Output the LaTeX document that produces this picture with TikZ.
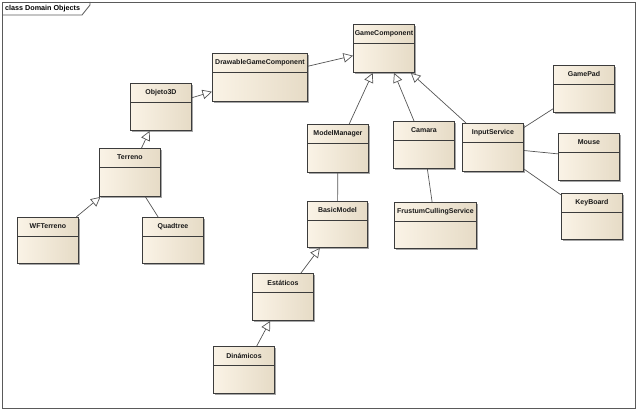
\documentclass[tikz,border=0pt]{standalone}
\usepackage{fontspec}
\newfontfamily\umlfont{Liberation Sans}
\usetikzlibrary{shadows,arrows.meta}

\definecolor{boxlight}{HTML}{FAF3E6}
\definecolor{boxdark}{HTML}{E6DBC6}
\definecolor{boxline}{HTML}{3C3C3C}
\definecolor{linkgray}{HTML}{555555}
\definecolor{framegray}{HTML}{5A5A5A}

\tikzset{
  classname/.style={anchor=center, yshift=-9.5pt, inner sep=0pt,
    font=\umlfont\bfseries\fontsize{7}{8}\selectfont, text=black!90},
  classbox/.style={draw=boxline, line width=0.9pt,
    left color=boxlight, right color=boxdark,
    minimum width=61pt, minimum height=47pt, anchor=north west, inner sep=0pt,
    drop shadow={shadow xshift=1.5pt, shadow yshift=-1.5pt, opacity=0.35, fill=black},
    path picture={\draw[boxline, line width=0.9pt]
      ([yshift=-19pt]path picture bounding box.north west) --
      ([yshift=-19pt]path picture bounding box.north east);},
    label={[classname]north:#1}},
  inherits/.style={draw=linkgray, line width=0.7pt,
    -{Triangle[open, length=9.5pt, width=9.5pt, fill=white]}},
  assoc/.style={draw=linkgray, line width=0.7pt},
}

\begin{document}
\begin{tikzpicture}[x=1pt, y=-1pt]
    \useasboundingbox (0,0) rectangle (640,411);

    % The frame
    \draw[framegray, line width=0.8pt] (2,2) rectangle (635,408);
    \draw[framegray, line width=0.8pt] (2,15) -- (82,15) -- (90,5) -- (90,2);
    \node (title) [anchor=west, inner sep=0pt, font=\umlfont\bfseries\fontsize{7.2}{8}\selectfont] at (5,8.5) {class Domain Objects};

    % The classes
    \node (GC) [classbox={GameComponent}, minimum height=48pt] at (353,24) {};
    \node (DGC) [classbox={DrawableGameComponent}, minimum width=95pt, minimum height=48pt] at (212,53) {};
    \node (Obj) [classbox={Objeto3D}] at (130,83) {};
    \node (Ter) [classbox={Terreno}, minimum height=48pt] at (99,148) {};
    \node (WFT) [classbox={WFTerreno}, minimum height=46pt] at (17,217) {};
    \node (Quad) [classbox={Quadtree}, minimum height=46pt] at (142,217) {};
    \node (MM) [classbox={ModelManager}, minimum height=48pt] at (307,124) {};
    \node (Cam) [classbox={Camara}] at (393,121) {};
    \node (Input) [classbox={InputService}, minimum height=48pt] at (462,123) {};
    \node (Pad) [classbox={GamePad}] at (553,65) {};
    \node (Mouse) [classbox={Mouse}] at (558,133) {};
    \node (Key) [classbox={KeyBoard}, minimum height=46pt] at (561,193) {};
    \node (BM) [classbox={BasicModel}, minimum width=60pt, minimum height=46pt] at (307,201) {};
    \node (FCS) [classbox={FrustumCullingService}, minimum width=82pt, minimum height=46pt] at (394,202) {};
    \node (Est) [classbox={Estáticos}] at (252,273) {};
    \node (Din) [classbox={Dinámicos}] at (213,346) {};

    % Inheritance
    \draw[inherits] (DGC) -- (GC);
    \draw[inherits] (Obj) -- (DGC);
    \draw[inherits] (Ter) -- (Obj);
    \draw[inherits] (WFT) -- (Ter);
    \draw[inherits] (MM) -- (GC);
    \draw[inherits] (Cam) -- (GC);
    \draw[inherits] (Input) -- (GC);
    \draw[inherits] (Est) -- (BM);
    \draw[inherits] (Din) -- (Est);

    % Associations
    \draw[assoc] (Quad) -- (Ter);
    \draw[assoc] (MM) -- (BM);
    \draw[assoc] (Cam) -- (FCS);
    \draw[assoc] (Input) -- (Pad);
    \draw[assoc] (Input) -- (Mouse);
    \draw[assoc] (Input) -- (Key);
\end{tikzpicture}
\end{document}
